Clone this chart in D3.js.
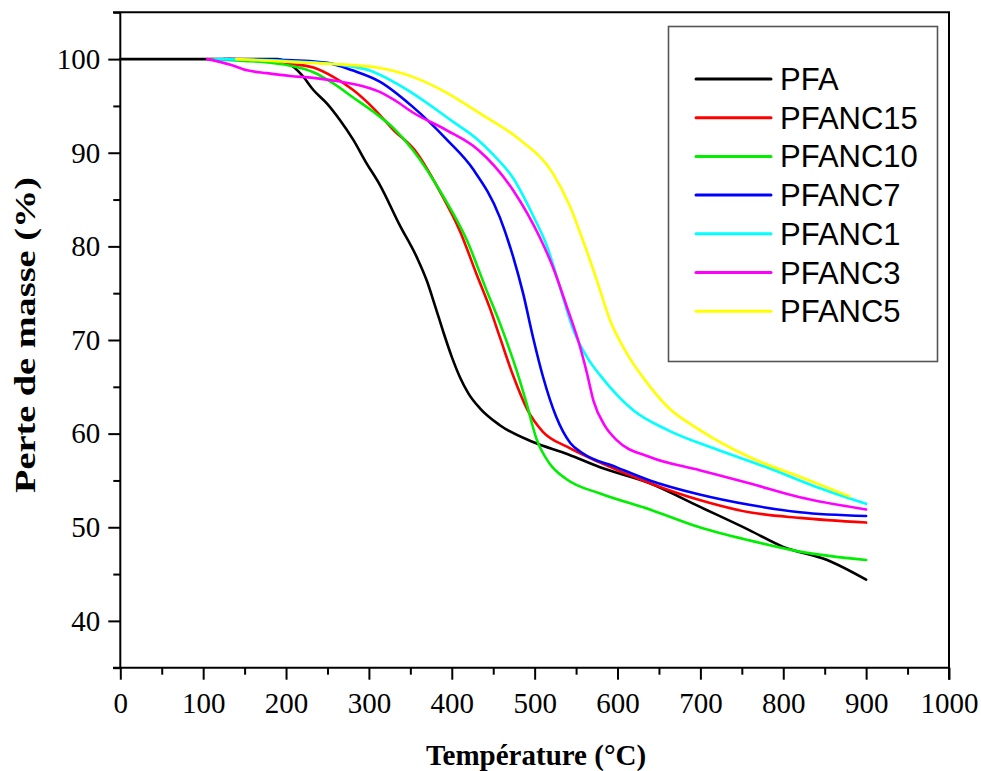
<!DOCTYPE html>
<html>
<head>
<meta charset="utf-8">
<script src="https://cdn.jsdelivr.net/npm/d3@7"></script>
<style>
  html, body { margin: 0; padding: 0; background: #fff; }
  svg { display: block; }
</style>
</head>
<body>
<svg id="chart" width="981" height="771"></svg>
<script>
// Thermogravimetric curves: temperature (°C) and remaining mass (%)
const pfaT      = [0, 100, 190, 200, 210, 220, 233, 250, 265, 281, 297, 313, 337, 358, 370, 380, 390, 400, 410, 420, 434, 458, 498, 540, 579, 639, 699, 759, 800, 853, 900];
const pfaW      = [100, 100, 100, 99.7, 99.1, 98.2, 96.7, 95.2, 93.5, 91.4, 88.9, 86.6, 82.3, 78.8, 76.3, 73.6, 70.8, 68.2, 66.0, 64.3, 62.7, 60.9, 59.1, 57.8, 56.4, 54.7, 52.2, 49.7, 47.9, 46.5, 44.4];

const nc15T     = [130, 180, 205, 233, 257, 281, 305, 330, 355, 386, 410, 430, 446, 458, 474, 491, 510, 539, 579, 639, 699, 759, 820, 900];
const nc15W     = [100, 99.9, 99.5, 99.1, 98.1, 96.7, 94.8, 92.4, 90.3, 85.8, 81.6, 77.0, 73.4, 70.3, 66.2, 62.6, 60.2, 58.6, 56.9, 54.7, 52.9, 51.6, 51.0, 50.5];

const nc10T     = [110, 150, 172, 205, 233, 257, 281, 305, 330, 353, 390, 418, 442, 458, 478, 490, 502, 518, 539, 579, 639, 699, 759, 820, 900];
const nc10W     = [100, 99.8, 99.7, 99.3, 98.6, 97.4, 95.9, 94.4, 92.6, 90.3, 85.3, 80.7, 75.3, 71.8, 66.8, 63.3, 59.5, 56.8, 55.1, 53.6, 51.9, 50.0, 48.6, 47.4, 46.5];

const nc7T      = [125, 200, 250, 280, 313, 353, 394, 426, 458, 474, 486, 498, 510, 526, 543, 558, 599, 639, 699, 759, 820, 900];
const nc7W      = [100, 99.9, 99.6, 98.8, 97.6, 94.9, 91.4, 88.2, 83.1, 78.9, 75.0, 70.3, 66.1, 61.8, 59.0, 57.9, 56.4, 55.0, 53.5, 52.4, 51.6, 51.2];

const nc1T      = [115, 200, 265, 300, 350, 400, 430, 450, 474, 498, 515, 531, 547, 563, 583, 619, 660, 720, 780, 840, 900];
const nc1W      = [100, 99.8, 99.4, 98.8, 96.5, 93.4, 91.5, 89.8, 87.3, 83.3, 80.0, 75.5, 71.0, 68.2, 65.8, 62.5, 60.4, 58.3, 56.4, 54.3, 52.5];

const nc3T      = [105, 133, 153, 177, 205, 233, 265, 297, 313, 333, 353, 394, 432, 474, 506, 522, 539, 555, 563, 571, 585, 599, 639, 699, 759, 820, 900];
const nc3W      = [100, 99.4, 98.8, 98.5, 98.2, 98.0, 97.6, 97.0, 96.5, 95.5, 94.3, 92.4, 90.3, 86.0, 81.0, 77.8, 73.5, 69.2, 66.5, 63.5, 60.8, 59.3, 57.5, 56.1, 54.7, 53.2, 51.9];

const nc5T      = [140, 205, 253, 310, 353, 394, 434, 482, 522, 543, 558, 575, 591, 611, 635, 660, 699, 759, 820, 880];
const nc5W      = [100, 99.7, 99.5, 99.1, 98.1, 96.4, 94.2, 91.4, 87.8, 84.2, 80.7, 76.4, 72.1, 68.6, 65.5, 62.9, 60.4, 57.5, 55.4, 53.3];

const seriesNames  = ["PFA", "PFANC15", "PFANC10", "PFANC7", "PFANC1", "PFANC3", "PFANC5"];
const seriesColors = ["#000000", "#ff0000", "#00ee00", "#0000ff", "#00ffff", "#ff00ff", "#ffff00"];
const seriesTemps  = [pfaT, nc15T, nc10T, nc7T, nc1T, nc3T, nc5T];
const seriesMass   = [pfaW, nc15W, nc10W, nc7W, nc1W, nc3W, nc5W];

const xMajor = [0, 100, 200, 300, 400, 500, 600, 700, 800, 900, 1000];
const xMinor = [50, 150, 250, 350, 450, 550, 650, 750, 850, 950];
const yMajor = [40, 50, 60, 70, 80, 90, 100];
const yMinor = [35, 45, 55, 65, 75, 85, 95, 105];

const xTitle = "Température (°C)";
const yTitle = "Perte de masse (%)";

const svg = d3.select("#chart");

const x = d3.scaleLinear().domain([0, 1000]).range([120.3, 949]);
const y = d3.scaleLinear().domain([35, 105]).range([667.7, 12.3]);

const serif = "'Liberation Serif', 'Times New Roman', serif";
const sans  = "'Liberation Sans', Arial, sans-serif";

// curves
const line = d3.line()
  .x(d => x(d[0]))
  .y(d => y(d[1]))
  .curve(d3.curveMonotoneX);

const plot = svg.append("g");
seriesNames.forEach((name, i) => {
  const pts = seriesTemps[i].map((t, j) => [t, seriesMass[i][j]]);
  plot.append("path")
    .datum(pts)
    .attr("fill", "none")
    .attr("stroke", seriesColors[i])
    .attr("stroke-width", 2.6)
    .attr("stroke-linejoin", "round")
    .attr("stroke-linecap", "round")
    .attr("d", line);
});

// axes
function styleAxis(g) {
  g.select(".domain").remove();
  g.selectAll(".tick line").attr("stroke", "#000").attr("stroke-width", 2);
  g.selectAll(".tick text").attr("fill", "#000").style("font-family", serif).style("font-size", "29px");
}

const xAxisMinor = svg.append("g").attr("transform", `translate(0,${y(35)})`)
  .call(d3.axisBottom(x).tickValues(xMinor).tickSize(7).tickFormat(""));
styleAxis(xAxisMinor);
const xAxis = svg.append("g").attr("transform", `translate(0,${y(35)})`)
  .call(d3.axisBottom(x).tickValues(xMajor).tickSize(12).tickPadding(12.5).tickFormat(d3.format("d")));
styleAxis(xAxis);

const yAxisMinor = svg.append("g").attr("transform", `translate(${x(0)},0)`)
  .call(d3.axisLeft(y).tickValues(yMinor).tickSize(7).tickFormat(""));
styleAxis(yAxisMinor);
const yAxis = svg.append("g").attr("transform", `translate(${x(0)},0)`)
  .call(d3.axisLeft(y).tickValues(yMajor).tickSize(12).tickPadding(8).tickFormat(d3.format("d")));
styleAxis(yAxis);

// frame
const frame = svg.append("g").attr("stroke", "#000").attr("stroke-width", 2).attr("fill", "none");
frame.append("line").attr("x1", 113).attr("x2", x(1000) + 1).attr("y1", y(35)).attr("y2", y(35));
frame.append("line").attr("x1", 113).attr("x2", x(1000) + 1).attr("y1", y(105)).attr("y2", y(105));
frame.append("line").attr("x1", x(0)).attr("x2", x(0)).attr("y1", y(105)).attr("y2", y(35));
frame.append("line").attr("x1", x(1000)).attr("x2", x(1000)).attr("y1", y(105)).attr("y2", y(35) + 12);

// axis titles
svg.append("text")
  .attr("x", 536).attr("y", 765)
  .attr("text-anchor", "middle")
  .style("font-family", serif).style("font-weight", "bold").style("font-size", "29px")
  .text(xTitle);

svg.append("text")
  .attr("transform", "translate(35,335) rotate(-90)")
  .attr("text-anchor", "middle")
  .attr("textLength", 316).attr("lengthAdjust", "spacingAndGlyphs")
  .style("font-family", serif).style("font-weight", "bold").style("font-size", "30px")
  .text(yTitle);

// legend
const legend = svg.append("g");
legend.append("rect")
  .attr("x", 668.5).attr("y", 26.5).attr("width", 269).attr("height", 335)
  .attr("fill", "#fff").attr("stroke", "#555").attr("stroke-width", 1.6);

seriesNames.forEach((name, i) => {
  const ly = 79 + i * 38.7;
  legend.append("line")
    .attr("x1", 696).attr("x2", 771).attr("y1", ly).attr("y2", ly)
    .attr("stroke", seriesColors[i]).attr("stroke-width", 3).attr("stroke-linecap", "round");
  legend.append("text")
    .attr("x", 780).attr("y", ly + 11)
    .style("font-family", sans).style("font-size", "31px")
    .attr("fill", "#000")
    .text(name);
});
</script>
</body>
</html>
